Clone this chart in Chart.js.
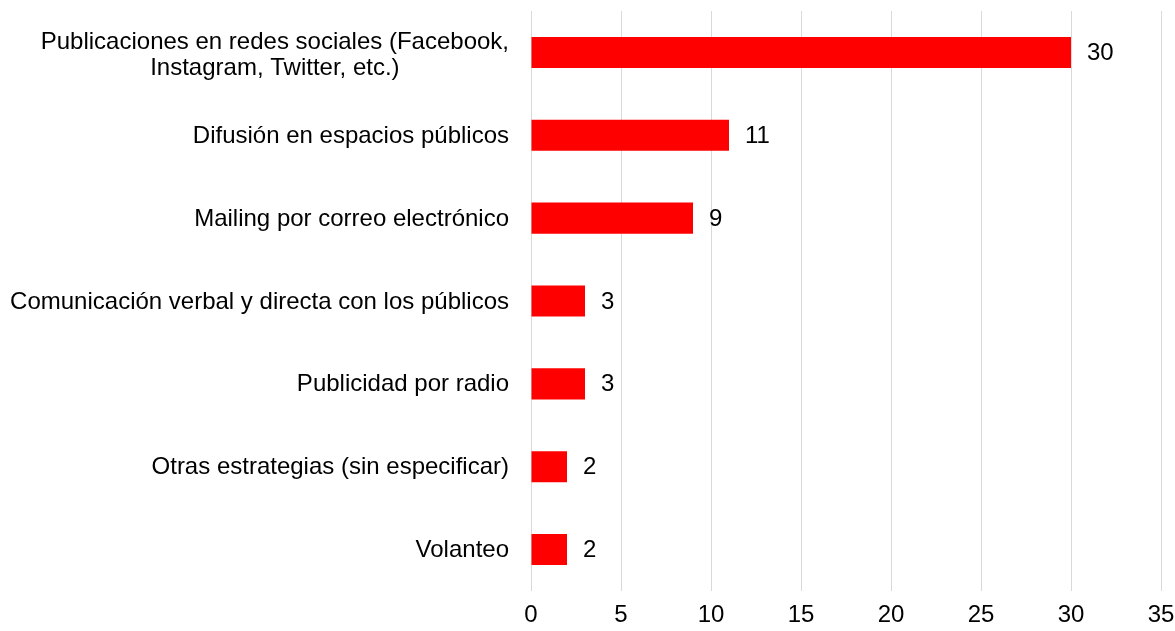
<!DOCTYPE html>
<html>
<head>
<meta charset="utf-8">
<script src="https://cdn.jsdelivr.net/npm/chart.js@4"></script>
<style>
    html, body { margin: 0; padding: 0; background: #fff; }
    #wrap { width: 1175px; height: 631px; position: relative; }
</style>
</head>
<body>
<div id="wrap"><canvas id="strategy-chart"></canvas></div>
<script>
// Chart data
const categories = [
    ['Publicaciones en redes sociales (Facebook,', 'Instagram, Twitter, etc.)'],
    'Difusión en espacios públicos',
    'Mailing por correo electrónico',
    'Comunicación verbal y directa con los públicos',
    'Publicidad por radio',
    'Otras estrategias (sin especificar)',
    'Volanteo'
];
const counts = [30, 11, 9, 3, 3, 2, 2];
const xTicks = [0, 5, 10, 15, 20, 25, 30, 35];

const FAMILY = '"Liberation Sans", Arial, sans-serif';
const FONT = '24px ' + FAMILY;

// Draws category labels (centered when wrapped) and the value next to each bar
const labelPlugin = {
    id: 'labelPlugin',
    afterDatasetsDraw(chart) {
        const ctx = chart.ctx;
        const yScale = chart.scales.y;
        const meta = chart.getDatasetMeta(0);
        ctx.save();
        ctx.font = FONT;
        ctx.fillStyle = '#000';
        ctx.textBaseline = 'middle';

        categories.forEach(function(label, i) {
            const y = yScale.getPixelForValue(i);
            const lines = Array.isArray(label) ? label : [label];
            const lineH = 26;
            const shift = lines.length > 1 ? 3 : 1;
            const widest = Math.max.apply(null, lines.map(l => ctx.measureText(l).width));
            const right = chart.chartArea.left - 22;
            const cx = right - widest / 2;
            ctx.textAlign = 'center';
            lines.forEach(function(line, j) {
                const ly = y + shift + (j - (lines.length - 1) / 2) * lineH;
                ctx.fillText(line, cx, ly);
            });

            const bar = meta.data[i];
            ctx.textAlign = 'left';
            ctx.fillText(String(counts[i]), bar.x + 16, bar.y + 1);
        });
        ctx.restore();
    }
};

function initStrategyChart() {
    const el = document.getElementById('strategy-chart');
    if(el) {
        new Chart(el, {
            type: 'bar',
            data: {
                labels: categories,
                datasets: [{
                    data: counts,
                    backgroundColor: '#ff0000',
                    borderWidth: 0,
                    barPercentage: 0.75,
                    categoryPercentage: 0.5
                }]
            },
            options: {
                indexAxis: 'y',
                responsive: true,
                maintainAspectRatio: false,
                animation: false,
                layout: {
                    padding: { left: 531, right: 14, top: 11, bottom: 0 }
                },
                plugins: {
                    legend: { display: false },
                    tooltip: { enabled: false }
                },
                scales: {
                    x: {
                        min: xTicks[0],
                        max: xTicks[xTicks.length - 1],
                        afterBuildTicks: function(scale) {
                            scale.ticks = xTicks.map(v => ({ value: v }));
                        },
                        afterFit: function(scale) {
                            scale.height = 40;
                            scale.paddingLeft = 0;
                            scale.paddingRight = 0;
                        },
                        grid: {
                            color: '#d9d9d9',
                            lineWidth: 1,
                            drawTicks: false
                        },
                        border: { display: false },
                        ticks: {
                            color: '#000',
                            padding: 10,
                            font: { family: FAMILY, size: 24 }
                        }
                    },
                    y: {
                        display: false
                    }
                }
            },
            plugins: [labelPlugin]
        });
    }
}

initStrategyChart();
</script>
</body>
</html>
